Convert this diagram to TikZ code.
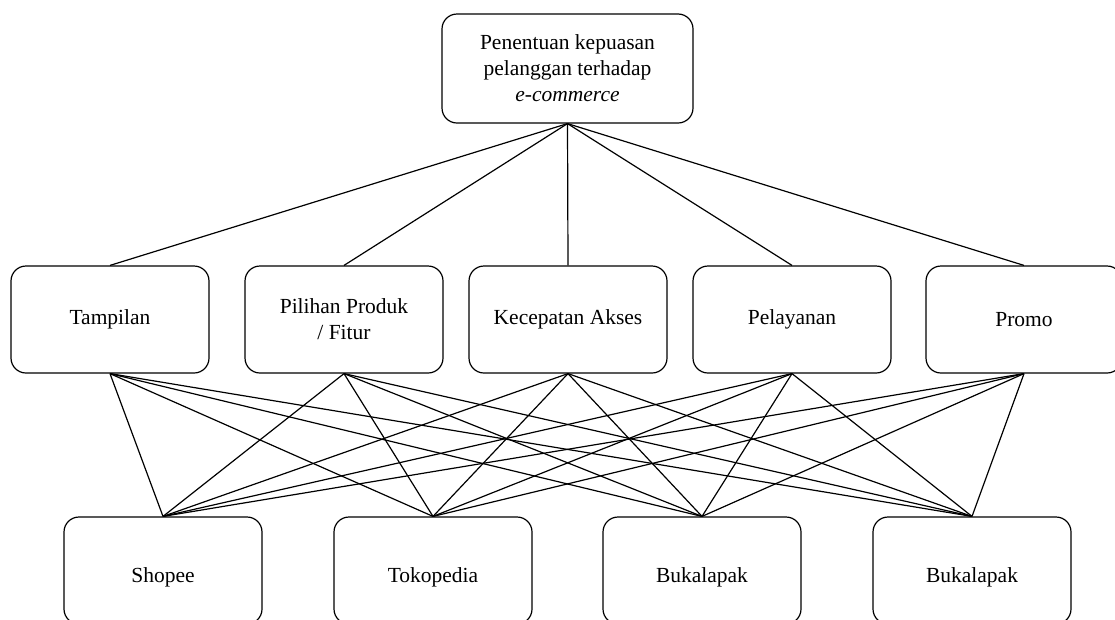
\documentclass[tikz,border=0pt]{standalone}
\usepackage{fontspec}
\setmainfont{Liberation Serif}
\begin{document}
\begin{tikzpicture}[x=1pt,y=-1pt,
  box/.style={draw, line width=1.2pt, rounded corners=15pt, minimum width=198pt, minimum height=107pt, inner sep=0pt, align=center, font=\fontsize{21.5}{26}\selectfont},
  conn/.style={line width=1.2pt}]
\useasboundingbox (0,0) rectangle (1115,619);
\clip (0,0) rectangle (1115,619);
\node[box, minimum width=251pt, minimum height=109pt] (top) at (567.5,68.5) {Penentuan kepuasan\\pelanggan terhadap\\\textit{e-commerce}};
\node[box] (m1) at (110,319.5) {Tampilan};
\node[box] (m2) at (344,319.5) {Pilihan Produk\\/ Fitur};
\node[box] (m3) at (568,319.5) {Kecepatan Akses};
\node[box] (m4) at (792,319.5) {Pelayanan};
\node[box, minimum width=196pt] (m5) at (1024,319.5) {Promo};
\node[box] (b1) at (163,570.5) {\raisebox{-11.5pt}[0pt][0pt]{Shopee}};
\node[box] (b2) at (433,570.5) {\raisebox{-11.5pt}[0pt][0pt]{Tokopedia}};
\node[box] (b3) at (702,570.5) {\raisebox{-11.5pt}[0pt][0pt]{Bukalapak}};
\node[box] (b4) at (972,570.5) {\raisebox{-11.5pt}[0pt][0pt]{Bukalapak}};
\foreach \m in {m1,m2,m3,m4,m5} {
  \draw[conn] (top.south) -- (\m.north);
  \foreach \b in {b1,b2,b3,b4} {
    \draw[conn] (\m.south) -- (\b.north);
  }
}
\end{tikzpicture}
\end{document}
